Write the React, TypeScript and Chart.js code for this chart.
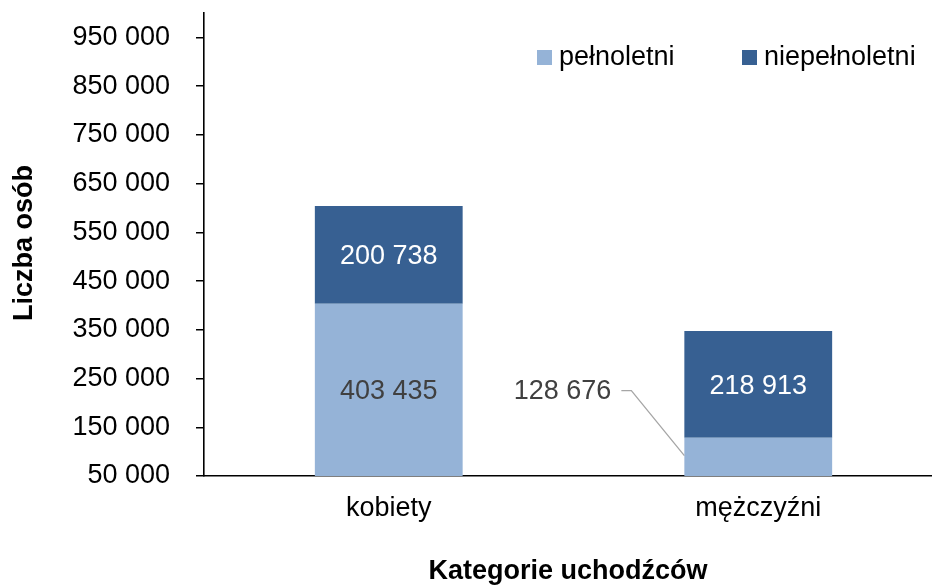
import React, { useEffect, useRef } from "react";
import { Chart, registerables } from "chart.js";

Chart.register(...registerables);

const categories = ["kobiety", "mężczyźni"];
const adults = [403435, 128676];
const minors = [200738, 218913];
const seriesNames = ["pełnoletni", "niepełnoletni"];
const yTickValues = [50000, 150000, 250000, 350000, 450000, 550000, 650000, 750000, 850000, 950000];
const xTitle = "Kategorie uchodźców";
const yTitle = "Liczba osób";

const LIGHT = "#95B3D7";
const DARK = "#376092";
const FONT = "'Liberation Sans', Arial, sans-serif";

const fmt = (v: number) => String(Math.round(v)).replace(/\B(?=(\d{3})+(?!\d))/g, " ");

const overlayPlugin = {
  id: "overlay",
  afterDatasetsDraw(chart: any) {
    const ctx = chart.ctx;
    const area = chart.chartArea;
    const m0 = chart.getDatasetMeta(0);
    const m1 = chart.getDatasetMeta(1);
    ctx.save();
    ctx.font = `27px ${FONT}`;
    ctx.textAlign = "center";
    ctx.textBaseline = "middle";
    // adults labels
    m0.data.forEach((bar: any, i: number) => {
      const top = bar.y;
      const bottom = Math.min(bar.base, area.bottom);
      if (i === 0) {
        ctx.fillStyle = "#404040";
        ctx.fillText(fmt(adults[i]), bar.x, (top + bottom) / 2 + 2);
      } else {
        const left = bar.x - bar.width / 2;
        const ly = top - 47;
        ctx.fillStyle = "#404040";
        ctx.textAlign = "right";
        ctx.fillText(fmt(adults[i]), left - 73, ly + 1);
        ctx.strokeStyle = "#A6A6A6";
        ctx.lineWidth = 1.3;
        ctx.beginPath();
        ctx.moveTo(left - 63, ly);
        ctx.lineTo(left - 53, ly);
        ctx.lineTo(left, top + 18);
        ctx.stroke();
        ctx.textAlign = "center";
      }
    });
    m1.data.forEach((bar: any, i: number) => {
      ctx.fillStyle = "#FFFFFF";
      ctx.fillText(fmt(minors[i]), bar.x, (bar.y + bar.base) / 2 + 2);
    });
    ctx.restore();
  },
  afterDraw(chart: any) {
    const ctx = chart.ctx;
    const area = chart.chartArea;
    ctx.save();
    // legend
    ctx.font = `27px ${FONT}`;
    ctx.textBaseline = "middle";
    ctx.textAlign = "left";
    const legendItems = [
      { x: 537, color: LIGHT, text: seriesNames[0] },
      { x: 742, color: DARK, text: seriesNames[1] },
    ];
    legendItems.forEach((it) => {
      ctx.fillStyle = it.color;
      ctx.fillRect(it.x, 50, 15, 15);
      ctx.fillStyle = "#000";
      ctx.fillText(it.text, it.x + 22, 58);
    });
    // titles
    ctx.font = `bold 27px ${FONT}`;
    ctx.fillStyle = "#000";
    ctx.textAlign = "center";
    ctx.fillText(xTitle, 568, 572);
    ctx.translate(24, 243);
    ctx.rotate(-Math.PI / 2);
    ctx.fillText(yTitle, 0, 1);
    ctx.restore();
  },
};

export default function App() {
  const ref = useRef<HTMLCanvasElement | null>(null);
  useEffect(() => {
    if (!ref.current) return;
    const chart = new Chart(ref.current, {
      type: "bar",
      data: {
        labels: categories,
        datasets: [
          { label: seriesNames[0], data: adults, backgroundColor: LIGHT, barPercentage: 0.4, categoryPercentage: 1 },
          { label: seriesNames[1], data: minors, backgroundColor: DARK, barPercentage: 0.4, categoryPercentage: 1 },
        ],
      },
      options: {
        responsive: false,
        animation: false,
        layout: { padding: { top: 13, left: 0, right: 0, bottom: 0 } },
        plugins: { legend: { display: false }, tooltip: { enabled: false } },
        scales: {
          x: {
            stacked: true,
            grid: { display: false, drawTicks: false },
            border: { display: true, color: "#000", width: 1.6 },
            ticks: { color: "#000", font: { family: FONT, size: 27 }, padding: 16 },
            afterFit: (s: any) => {
              s.height = 109;
              s.paddingLeft = 0;
              s.paddingRight = 0;
            },
          },
          y: {
            stacked: true,
            min: 50000,
            max: 1000000,
            afterBuildTicks: (s: any) => {
              s.ticks = yTickValues.map((v) => ({ value: v }));
            },
            grid: { drawOnChartArea: false, drawTicks: true, tickLength: 8, color: "#000", lineWidth: 1.5 },
            border: { display: true, color: "#000", width: 1.6 },
            ticks: {
              color: "#000",
              font: { family: FONT, size: 27 },
              padding: 26,
              callback: (v: any) => fmt(Number(v)),
            },
            afterFit: (s: any) => {
              s.width = 204;
              s.paddingTop = 0;
              s.paddingBottom = 0;
            },
          },
        },
      },
      plugins: [overlayPlugin],
    });
    return () => chart.destroy();
  }, []);
  return (
    <div style={{ position: "fixed", left: 0, top: 0, width: 932, height: 585, overflow: "hidden", background: "#fff" }}>
      <canvas ref={ref} width={943} height={585} style={{ display: "block" }} />
    </div>
  );
}
